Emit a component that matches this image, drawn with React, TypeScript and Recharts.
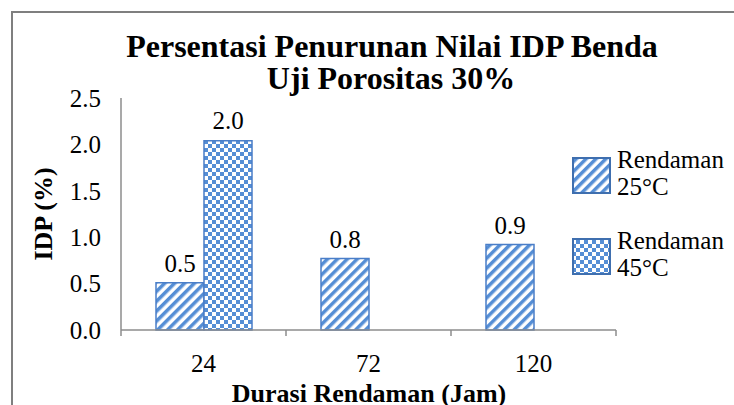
import { Bar, BarChart, LabelList, XAxis, YAxis } from "recharts";

const CATEGORIES = ["24", "72", "120"];
const RENDAMAN_25 = [0.51, 0.77, 0.92];
const RENDAMAN_45: (number | null)[] = [2.04, null, null];
const Y_TICKS = [0, 0.5, 1, 1.5, 2, 2.5];
const SERIES_NAMES = ["Rendaman 25°C", "Rendaman 45°C"];

const data = CATEGORIES.map((c, i) => ({
  durasi: c,
  r25: RENDAMAN_25[i],
  r45: RENDAMAN_45[i],
}));

const W = 734;
const H = 405;
const MARGIN = { top: 98, right: 118, bottom: 0, left: 0 };
const Y_WIDTH = 121;
const X_HEIGHT = 75;
const PLOT_W = W - MARGIN.left - MARGIN.right - Y_WIDTH;

const FONT = "'Liberation Serif', 'Times New Roman', serif";
const BLUE = "#558ED5";
const EDGE = "#4A7EC8";
const AXIS = "#8c8c8c";

const fmt = (v: any) => (v == null ? "" : Number(v).toFixed(1));

// category ticks sit on the band edges, labels in the middle
function XTick(props: any) {
  const { x, y, payload, index } = props;
  const half = PLOT_W / CATEGORIES.length / 2;
  return (
    <g>
      <line x1={x - half} x2={x - half} y1={y} y2={y + 6} stroke={AXIS} strokeWidth={1.5} />
      {index === CATEGORIES.length - 1 && (
        <line x1={x + half} x2={x + half} y1={y} y2={y + 6} stroke={AXIS} strokeWidth={1.5} />
      )}
      <text x={x} y={y + 42} textAnchor="middle" fontSize={25} fontFamily={FONT} fill="#000">
        {payload.value}
      </text>
    </g>
  );
}

function Patterns() {
  return (
    <defs>
      <pattern id="stripe" patternUnits="userSpaceOnUse" width={7} height={7} patternTransform="rotate(45)">
        <rect width={7} height={7} fill="#fff" />
        <rect width={3.5} height={7} fill={BLUE} />
      </pattern>
      <pattern id="checker" patternUnits="userSpaceOnUse" width={8} height={8}>
        <rect width={8} height={8} fill="#fff" />
        <rect width={4} height={4} fill={BLUE} />
        <rect x={4} y={4} width={4} height={4} fill={BLUE} />
      </pattern>
    </defs>
  );
}

export default function App() {
  const fills = ["url(#stripe)", "url(#checker)"];
  return (
    <div style={{ position: "absolute", left: 0, top: 0, width: W, height: H, background: "#fff", overflow: "hidden" }}>
      <BarChart width={W} height={H} data={data} margin={MARGIN} barCategoryGap={35} barGap={0}>
        <Patterns />
        <XAxis
          dataKey="durasi"
          height={X_HEIGHT}
          stroke={AXIS}
          strokeWidth={1.5}
          tickLine={false}
          tickSize={0}
          tickMargin={0}
          tick={<XTick />}
        />
        <YAxis
          width={Y_WIDTH}
          domain={[0, 2.5]}
          ticks={Y_TICKS}
          tickFormatter={fmt}
          stroke={AXIS}
          strokeWidth={1.5}
          tickLine={false}
          tickSize={0}
          tickMargin={20}
          tick={{ fontSize: 25, fontFamily: FONT, fill: "#000" }}
        />
        <Bar dataKey="r25" name={SERIES_NAMES[0]} fill="url(#stripe)" stroke={EDGE} strokeWidth={1.5} isAnimationActive={false}>
          <LabelList dataKey="r25" position="top" offset={11} formatter={fmt} fill="#000" fontSize={25} fontFamily={FONT} />
        </Bar>
        <Bar dataKey="r45" name={SERIES_NAMES[1]} fill="url(#checker)" stroke={EDGE} strokeWidth={1.5} isAnimationActive={false}>
          <LabelList dataKey="r45" position="top" offset={12} formatter={fmt} fill="#000" fontSize={25} fontFamily={FONT} />
        </Bar>
      </BarChart>

      <svg width={W} height={H} style={{ position: "absolute", left: 0, top: 0, pointerEvents: "none" }}>
        <Patterns />
        <path d={`M12 ${H} L12 12 L${W} 12`} fill="none" stroke="#7f7f7f" strokeWidth={2} />
        <g fontFamily={FONT} fontWeight="bold" fill="#000" textAnchor="middle">
          <text x={392} y={57} fontSize={32}>Persentasi Penurunan Nilai IDP Benda</text>
          <text x={391} y={89} fontSize={32}>Uji Porositas 30%</text>
          <text x={369} y={402} fontSize={26}>Durasi Rendaman (Jam)</text>
          <text x={43} y={214} fontSize={26} dominantBaseline="central" transform="rotate(-90 43 214)">
            IDP (%)
          </text>
        </g>
        {SERIES_NAMES.map((name, i) => {
          const top = 158 + i * 81;
          const [l1, l2] = name.split(" ");
          return (
            <g key={name}>
              <rect x={573} y={top} width={37} height={35} fill={fills[i]} stroke="#3F6FAF" strokeWidth={2} />
              <text x={617} y={top + 10} fontSize={25} fontFamily={FONT} fill="#000">{l1}</text>
              <text x={617} y={top + 37} fontSize={25} fontFamily={FONT} fill="#000">{l2}</text>
            </g>
          );
        })}
      </svg>
    </div>
  );
}
